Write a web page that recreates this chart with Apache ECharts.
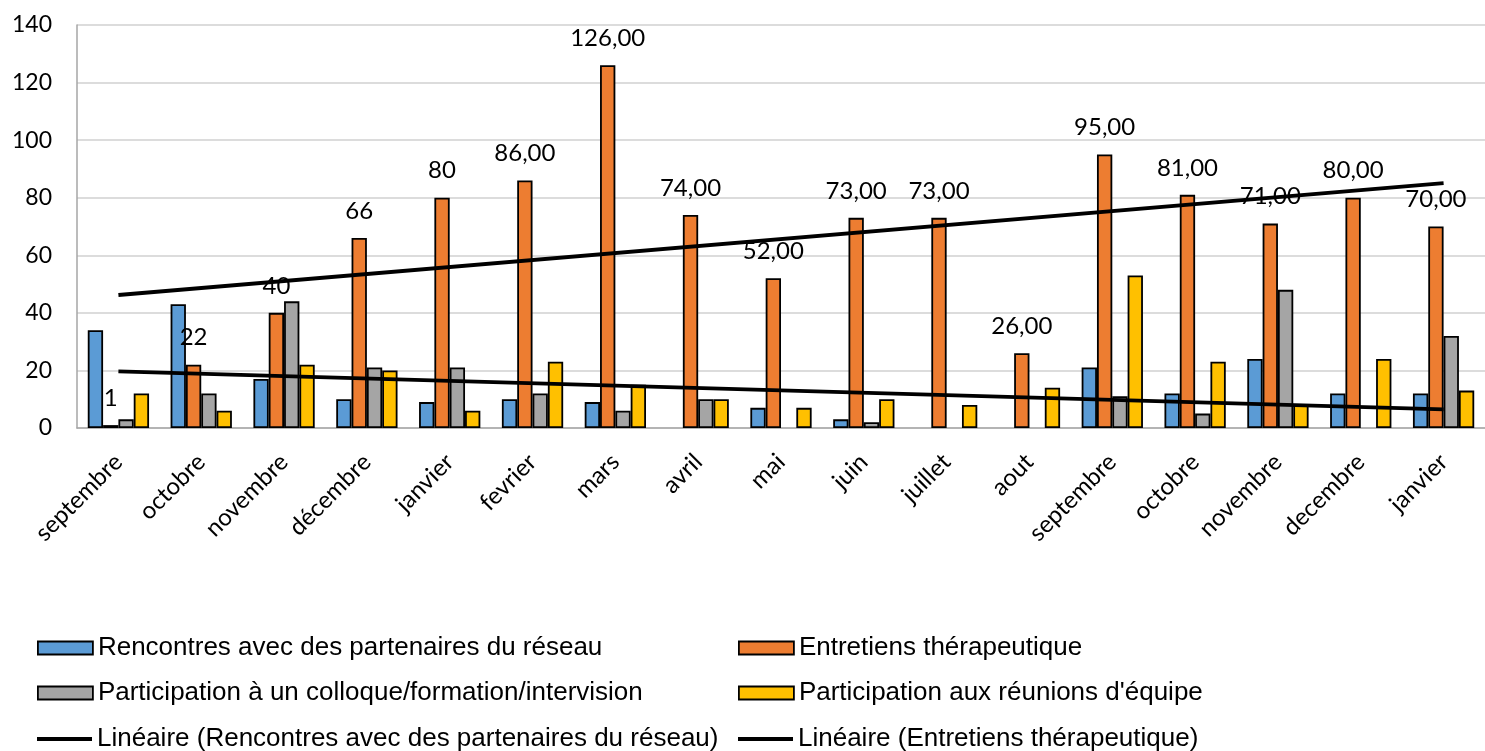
<!DOCTYPE html>
<html><head><meta charset="utf-8">
<script src="https://cdn.jsdelivr.net/npm/echarts@6/dist/echarts.min.js"></script>
<style>html,body{margin:0;padding:0;background:#fff}#c{width:1485px;height:751px}</style>
</head><body><div id="c"></div>
<script>
const categories = ["septembre","octobre","novembre","décembre","janvier","fevrier","mars","avril","mai","juin","juillet","aout","septembre","octobre","novembre","decembre","janvier"];
const rencontres   = [34,43,17,10,9,10,9,0,7,3,0,0,21,12,24,12,12];
const entretiens   = [1,22,40,66,80,86,126,74,52,73,73,26,95,81,71,80,70];
const colloque     = [3,12,44,21,21,12,6,10,0,2,0,0,11,5,48,0,32];
const reunions     = [12,6,22,20,6,23,15,10,7,10,8,14,53,23,8,24,13];
const entretiensLabels = ["1","22","40","66","80","86,00","126,00","74,00","52,00","73,00","73,00","26,00","95,00","81,00","71,00","80,00","70,00"];
const trendRencontres = [19.7, 6.5];
const trendEntretiens = [46.2, 85.1];
const yTicks = [0,20,40,60,80,100,120,140];
const names = ["Rencontres avec des partenaires du réseau","Entretiens thérapeutique","Participation à un colloque/formation/intervision","Participation aux réunions d'équipe","Linéaire (Rencontres avec des partenaires du réseau)","Linéaire (Entretiens thérapeutique)"];
const colors = ["#5B9BD5","#ED7D31","#A5A5A5","#FFC000"];

const nz = a => a.map(v => v === 0 ? '-' : v);
const last = categories.length - 1;
const barBase = (name, data, color) => ({
  name, type: 'bar', data: nz(data), barGap: '0%', barCategoryGap: '26%',
  itemStyle: { color, borderColor: '#000', borderWidth: 1.8 }
});
const series = [
  barBase(names[0], rencontres, colors[0]),
  Object.assign(barBase(names[1], entretiens, colors[1]), {
    label: { show: true, position: 'top', distance: 15, fontFamily: 'Lato', fontSize: 24, color: '#000',
      formatter: p => entretiensLabels[p.dataIndex] }
  }),
  barBase(names[2], colloque, colors[2]),
  barBase(names[3], reunions, colors[3]),
  { name: names[4], type: 'line', data: [[0, trendRencontres[0]], [last, trendRencontres[1]]], symbol: 'none',
    lineStyle: { color: '#000', width: 3.8 }, itemStyle: { color: '#000' }, z: 5, silent: true },
  { name: names[5], type: 'line', data: [[0, trendEntretiens[0]], [last, trendEntretiens[1]]], symbol: 'none',
    lineStyle: { color: '#000', width: 3.8 }, itemStyle: { color: '#000' }, z: 5, silent: true }
];
const legendPos = [[37,635],[738,635],[37,680],[738,680],[37,726],[738,726]];
const legends = names.map((n, i) => ({
  data: [n], left: legendPos[i][0], top: legendPos[i][1], padding: 0,
  itemWidth: 55, itemHeight: i < 4 ? 13 : 4, itemGap: 3,
  icon: 'rect',
  itemStyle: i < 4 ? { borderColor: '#000', borderWidth: 1.8 } : { borderWidth: 0 },
  textStyle: { fontFamily: 'Liberation Sans', fontSize: 26, color: '#000' },
  selectedMode: false
}));
const chart = echarts.init(document.getElementById('c'), null, { renderer: 'canvas' });
chart.setOption({
  animation: false,
  backgroundColor: '#fff',
  grid: { left: 77, top: 25, right: 0, bottom: 323, containLabel: false },
  legend: legends,
  xAxis: {
    type: 'category', data: categories,
    axisLine: { lineStyle: { color: '#A6A6A6', width: 1.5 } },
    axisTick: { show: false },
    axisLabel: { rotate: 45, margin: 30, fontFamily: 'Lato', fontSize: 24, color: '#000', interval: 0 }
  },
  yAxis: {
    type: 'value', min: yTicks[0], max: yTicks[yTicks.length - 1], interval: 20,
    axisLine: { show: true, lineStyle: { color: '#A6A6A6', width: 1.5 } },
    axisTick: { show: false },
    splitLine: { lineStyle: { color: '#D0D0D0', width: 1.5 } },
    axisLabel: { margin: 25, fontFamily: 'Lato', fontSize: 23, color: '#000' }
  },
  series
});
</script></body></html>
